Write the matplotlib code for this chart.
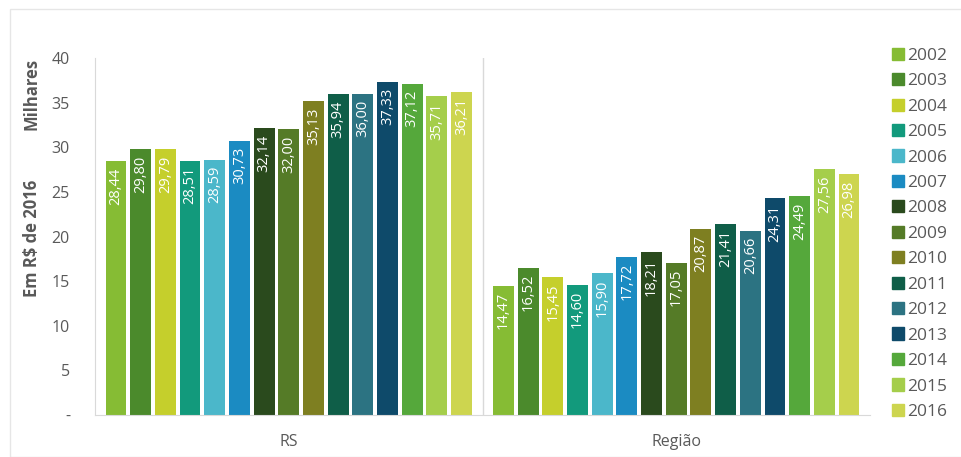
import matplotlib
matplotlib.use("Agg")
import matplotlib.pyplot as plt
import numpy as np
from matplotlib.patches import Patch, Rectangle

plt.rcParams["font.family"] = ["Open Sans", "DejaVu Sans"]

GRAY = "#595959"; LINE = "#D9D9D9"

groups = ["RS", "Região"]
years = [str(y) for y in range(2002, 2017)]
rs = [28.44, 29.80, 29.79, 28.51, 28.59, 30.73, 32.14, 32.00, 35.13, 35.94, 36.00, 37.33, 37.12, 35.71, 36.21]
regiao = [14.47, 16.52, 15.45, 14.60, 15.90, 17.72, 18.21, 17.05, 20.87, 21.41, 20.66, 24.31, 24.49, 27.56, 26.98]
colors = ["#86BC34", "#4B8A2C", "#C5CF2C", "#129A7C", "#4BB7CA", "#1B8BC2", "#2A4A1D", "#557B27",
          "#7E7F21", "#0F5E48", "#2C7382", "#0E4A6A", "#55A83B", "#A5CE4B", "#CDD54F"]

fig = plt.figure(figsize=(9.61, 4.57), dpi=100)
ax = fig.add_axes([95/961, 1-415/457, 775/961, 357/457])

step = 0.0637
width = 0.054
x = np.arange(len(groups))
for i, yr in enumerate(years):
    off = (i - 7) * step
    vals = [rs[i], regiao[i]]
    bars = ax.bar(x + off, vals, width, color=colors[i], label=yr)
    for b, v in zip(bars, vals):
        ax.text(b.get_x() + b.get_width()/2, v - 0.7, f"{v:.2f}".replace(".", ","),
                rotation=90, ha="center", va="top", color="white", fontsize=10.5)

ax.set_xlim(-0.5, 1.5)
ax.set_ylim(0, 40)
ax.set_yticks(range(0, 41, 5))
ax.set_yticklabels(["-"] + [str(v) for v in range(5, 41, 5)])
ax.set_xticks(x)
ax.set_xticklabels(groups)
ax.tick_params(length=0, colors=GRAY, labelsize=11.5)
ax.tick_params(axis="y", pad=18)
ax.tick_params(axis="x", pad=14)
for s in ["top", "right"]:
    ax.spines[s].set_visible(False)
ax.spines["left"].set_color(LINE)
ax.spines["bottom"].set_color(LINE)
ax.axvline(0.5, color=LINE, lw=1)

fig.text(32/961, 1-94/457, "Milhares", rotation=90, ha="center", va="center",
         color=GRAY, fontsize=12, fontweight="bold")
fig.text(32/961, 1-238/457, "Em R$ de 2016", rotation=90, ha="center", va="center",
         color=GRAY, fontsize=12, fontweight="bold")

handles = [Patch(color=c) for c in colors]
fig.legend(handles, years, loc="upper left", bbox_to_anchor=(876/961, 1-32/457), frameon=False,
           handlelength=0.7, handleheight=0.7, handletextpad=0.2, labelspacing=0.535,
           fontsize=12.5, labelcolor=GRAY)

fig.patches.append(Rectangle((10/961, 0), 1, 1-9/457, transform=fig.transFigure,
                             fill=False, edgecolor="#E6E6E6", lw=1))

fig.savefig("out.png", dpi=100, facecolor="white")
